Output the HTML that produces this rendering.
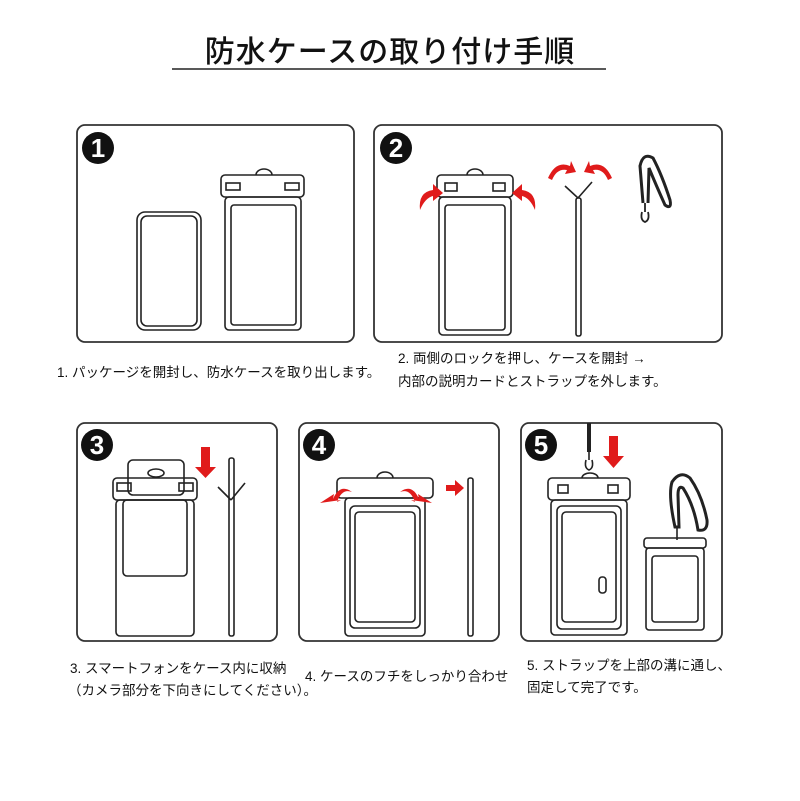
<!DOCTYPE html>
<html><head><meta charset="utf-8"><style>
html,body{margin:0;padding:0;background:#fff;}
svg{display:block;}
text{font-family:"Liberation Sans","Noto Sans CJK JP",sans-serif;fill:#111;}
</style></head><body>
<svg width="800" height="801" viewBox="0 0 800 801" xmlns="http://www.w3.org/2000/svg">
<text x="390" y="62" text-anchor="middle" font-size="30" font-weight="500" style="font-family:'Noto Sans CJK JP','Noto Serif CJK SC',sans-serif" letter-spacing="1">防水ケースの取り付け手順</text>
<line x1="172" y1="69" x2="606" y2="69" stroke="#222" stroke-width="1.5"/>

<g fill="none" stroke="#333" stroke-width="1.8">
<rect x="77" y="125" width="277" height="217" rx="8"/>
<rect x="374" y="125" width="348" height="217" rx="8"/>
<rect x="77" y="423" width="200" height="218" rx="8"/>
<rect x="299" y="423" width="200" height="218" rx="8"/>
<rect x="521" y="423" width="201" height="218" rx="8"/>
</g>

<g font-weight="bold" font-size="26" text-anchor="middle">
<circle cx="98" cy="148" r="16" fill="#111"/><text x="98" y="157" style="fill:#fff">1</text>
<circle cx="396" cy="148" r="16" fill="#111"/><text x="396" y="157" style="fill:#fff">2</text>
<circle cx="97" cy="445" r="16" fill="#111"/><text x="97" y="454" style="fill:#fff">3</text>
<circle cx="319" cy="445" r="16" fill="#111"/><text x="319" y="454" style="fill:#fff">4</text>
<circle cx="541" cy="445" r="16" fill="#111"/><text x="541" y="454" style="fill:#fff">5</text>
</g>

<g fill="none" stroke="#222" stroke-width="1.6">
<rect x="137" y="212" width="64" height="118" rx="8"/>
<rect x="141" y="216" width="56" height="110" rx="6"/>
<rect x="221" y="175" width="83" height="22" rx="4"/>
<path d="M256 175 a8 6 0 0 1 16 0"/>
<rect x="226" y="183" width="14" height="7"/><rect x="285" y="183" width="14" height="7"/>
<rect x="225" y="197" width="76" height="133" rx="4"/>
<rect x="231" y="205" width="65" height="120" rx="3"/>
<rect x="437" y="175" width="76" height="22" rx="4"/>
<path d="M467 175 a8 6 0 0 1 16 0"/>
<rect x="445" y="183" width="12" height="8"/><rect x="493" y="183" width="12" height="8"/>
<rect x="439" y="197" width="72" height="138" rx="4"/>
<rect x="445" y="205" width="60" height="125" rx="3"/>
<rect x="576" y="198" width="5" height="138" rx="2"/>
<path d="M578 198 L565 186 M578 198 L592 182"/>
<!-- lanyard loop box2 -->
<path d="M643 203 L640 166 Q643 152 653 158 Q662 175 670 200 Q672 210 665 205 Q656 185 649 168 L648 203" stroke-width="3"/>
<path d="M645 203 L645 212 M642 212 q-2 8 3 10 q5 -2 3 -10" stroke-width="1.8"/>
<!-- box3 -->
<rect x="128" y="460" width="56" height="35" rx="5"/>
<ellipse cx="156" cy="473" rx="8" ry="4"/>
<rect x="113" y="478" width="84" height="22" rx="4"/>
<rect x="117" y="483" width="14" height="8"/><rect x="179" y="483" width="14" height="8"/>
<rect x="116" y="500" width="78" height="136" rx="4"/>
<rect x="123" y="500" width="64" height="76" rx="4"/>
<rect x="229" y="458" width="5" height="178" rx="2"/>
<path d="M231 500 L218 487 M231 500 L245 483"/>
<!-- box4 -->
<rect x="337" y="478" width="96" height="20" rx="4"/>
<path d="M377 478 a8 6 0 0 1 16 0"/>
<rect x="345" y="498" width="80" height="138" rx="4"/>
<rect x="350" y="506" width="70" height="122" rx="5"/>
<rect x="355" y="512" width="60" height="110" rx="4"/>
<rect x="468" y="478" width="5" height="158" rx="2"/>
<!-- box5 -->
<path d="M589 423 L589 452" stroke-width="4"/>
<path d="M589 452 L589 460 M586 460 q-2 8 3 10 q5 -2 3 -10"/>
<rect x="548" y="478" width="82" height="22" rx="4"/>
<path d="M582 478 a8 5 0 0 1 16 0"/>
<rect x="558" y="485" width="10" height="8"/><rect x="608" y="485" width="10" height="8"/>
<rect x="551" y="500" width="76" height="135" rx="4"/>
<rect x="557" y="506" width="64" height="123" rx="5"/>
<rect x="562" y="512" width="54" height="110" rx="4"/>
<rect x="599" y="577" width="7" height="16" rx="3"/>
<rect x="644" y="538" width="62" height="10" rx="3"/>
<rect x="646" y="548" width="58" height="82" rx="3"/>
<rect x="652" y="556" width="46" height="66" rx="3"/>
<!-- lanyard loop box5 -->
<path d="M675 527 Q668 495 672 482 Q680 470 690 478 Q702 495 707 520 Q708 532 698 530 Q694 505 683 488 Q678 485 678 495 L679 527Z" stroke-width="3"/>
<path d="M677 527 L677 540"/>
</g>

<g fill="#e01b1b">
<path d="M420 210 Q418 192 433 190 L433 184 L443 193 L433 201 L433 196 Q425 198 420 210Z"/>
<path d="M535 210 Q537 192 522 190 L522 184 L512 193 L522 201 L522 196 Q530 198 535 210Z"/>
<path d="M548 178 Q556 160 570 166 L571 161 L576 172 L565 174 L567 170 Q557 168 552 180Z"/>
<path d="M612 178 Q604 160 590 166 L589 161 L584 172 L595 174 L593 170 Q603 168 608 180Z"/>
<path d="M201 447 h9 v20 h6 l-10.5 11 l-10.5 -11 h6z"/>
<path d="M320 503 L334 494 L333 499 Q340 483 352 492 Q342 488 337 502 L341 500Z"/>
<path d="M432 503 L418 494 L419 499 Q412 483 400 492 Q410 488 415 502 L411 500Z"/>
<path d="M446 485 h9 v-5 l9 8 l-9 8 v-5 h-9z"/>
<path d="M609 436 h9 v20 h6 l-10.5 12 l-10.5 -12 h6z"/>
</g>

<g font-size="13.5">
<text x="57" y="377">1. パッケージを開封し、防水ケースを取り出します。</text>
<text x="398" y="363">2. 両側のロックを押し、ケースを開封 →</text>
<text x="398" y="386">内部の説明カードとストラップを外します。</text>
<text x="70" y="673">3. スマートフォンをケース内に収納</text>
<text x="68" y="695">（カメラ部分を下向きにしてください）。</text>
<text x="305" y="681">4. ケースのフチをしっかり合わせ</text>
<text x="527" y="670">5. ストラップを上部の溝に通し、</text>
<text x="527" y="692">固定して完了です。</text>
</g>
</svg>
</body></html>
